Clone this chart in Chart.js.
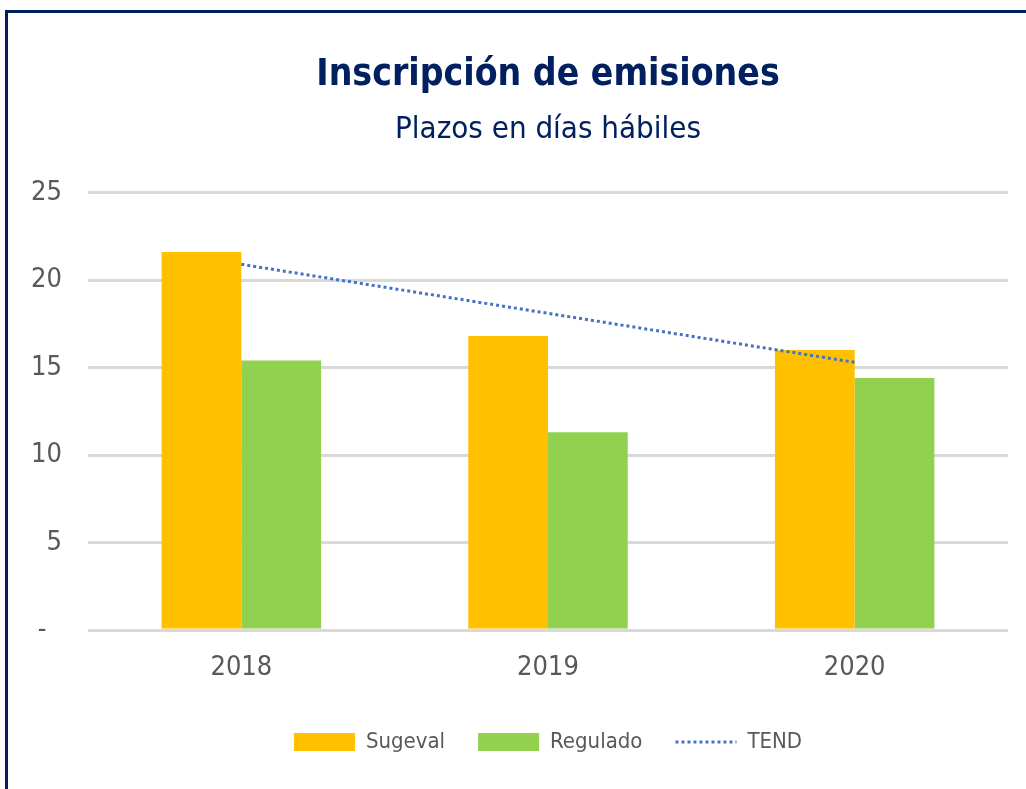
<!DOCTYPE html>
<html lang="es">
<head>
    <meta charset="UTF-8">
    <title>Inscripción de emisiones</title>
    <script src="https://cdn.jsdelivr.net/npm/chart.js"></script>
    <style>
        body { margin: 0; background: #ffffff; }
        #frame {
            position: absolute;
            left: 5px;
            top: 10px;
            width: 1021px;
            height: 779px;
            box-sizing: border-box;
            border-left: 3px solid #002060;
            border-top: 3px solid #002060;
        }
        #box { position: relative; width: 1018px; height: 776px; }
    </style>
</head>
<body>
    <div id="frame">
        <div id="box"><canvas id="myChart"></canvas></div>
    </div>
    <script>
        // datos
        var years = ['2018', '2019', '2020'];
        var sugeval = [21.6, 16.8, 16.0];
        var regulado = [15.4, 11.3, 14.4];
        var tend = [20.9, 18.1, 15.3];
        var yTicks = [0, 5, 10, 15, 20, 25];

        var fontFam = "'Liberation Sans Narrow', 'DejaVu Sans Condensed', 'Liberation Sans', Arial, sans-serif";
        Chart.defaults.font.family = fontFam;
        Chart.defaults.color = '#595959';

        var ctx = document.getElementById('myChart').getContext('2d');
        var myChart = new Chart(ctx, {
            type: 'bar',
            data: {
                labels: years,
                datasets: [{
                    label: 'Sugeval',
                    data: sugeval,
                    backgroundColor: '#FFC000',
                    borderWidth: 0,
                    pointStyle: 'rect',
                    order: 1
                }, {
                    label: 'Regulado',
                    data: regulado,
                    backgroundColor: '#92D050',
                    borderWidth: 0,
                    pointStyle: 'rect',
                    order: 1
                }, {
                    type: 'line',
                    label: 'TEND',
                    data: tend,
                    borderColor: '#4472C4',
                    backgroundColor: '#4472C4',
                    borderWidth: 3,
                    borderDash: [3, 3],
                    pointRadius: 0,
                    pointStyle: 'line',
                    fill: false,
                    order: 0
                }]
            },
            options: {
                responsive: true,
                maintainAspectRatio: false,
                animation: false,
                categoryPercentage: 0.52,
                barPercentage: 1,
                layout: { padding: { left: 0, right: 18, top: 0, bottom: 26 } },
                plugins: {
                    title: {
                        display: true,
                        fullSize: false,
                        text: 'Inscripción de emisiones',
                        color: '#002060',
                        font: { size: 37, weight: 'bold' },
                        padding: { top: 40, bottom: 0 }
                    },
                    subtitle: {
                        display: true,
                        fullSize: false,
                        text: 'Plazos en días hábiles',
                        color: '#002060',
                        font: { size: 31 },
                        padding: { top: 14, bottom: 44 }
                    },
                    legend: {
                        position: 'bottom',
                        fullSize: false,
                        labels: {
                            usePointStyle: true,
                            pointStyleWidth: 61,
                            boxHeight: 18,
                            padding: 33,
                            color: '#595959',
                            font: { size: 22 },
                            sort: function(a, b) { return a.datasetIndex - b.datasetIndex; },
                            generateLabels: function(chart) {
                                var items = Chart.defaults.plugins.legend.labels.generateLabels(chart);
                                items.forEach(function(it) {
                                    if (it.text === 'TEND') {
                                        it.lineDash = [3, 3];
                                        it.lineWidth = 3;
                                        it.strokeStyle = '#4472C4';
                                    }
                                });
                                return items;
                            }
                        }
                    },
                    tooltip: { enabled: false }
                },
                scales: {
                    x: {
                        grid: { display: false, drawTicks: false },
                        border: { display: false },
                        ticks: { padding: 22, font: { size: 27 }, color: '#595959' },
                        afterFit: function(s) { s.height = 68; }
                    },
                    y: {
                        min: 0,
                        max: 25,
                        afterBuildTicks: function(s) {
                            s.ticks = yTicks.map(function(v) { return { value: v }; });
                        },
                        grid: { color: '#d9d9d9', lineWidth: 3, drawTicks: false },
                        border: { display: false },
                        ticks: {
                            padding: 26,
                            font: { size: 27 },
                            color: '#595959',
                            callback: function(v) { return v === 0 ? '-  ' : v; }
                        },
                        afterFit: function(s) { s.width = 80; }
                    }
                }
            }
        });
    </script>
</body>
</html>
